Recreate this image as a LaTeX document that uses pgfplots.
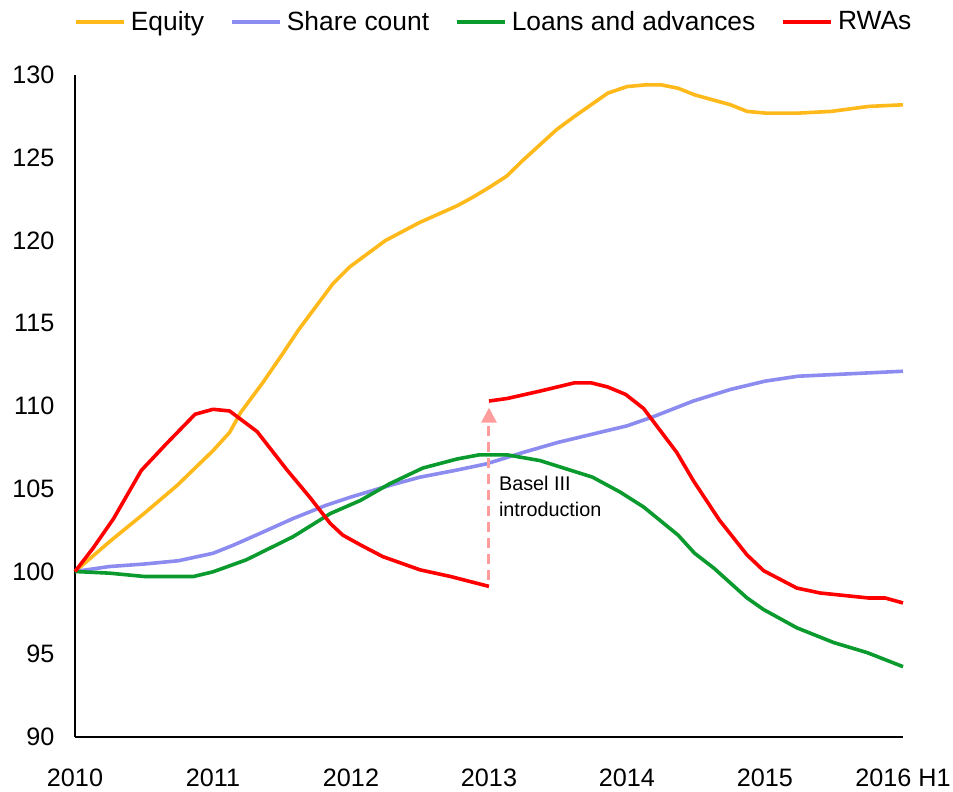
\documentclass[border=0pt]{standalone}
\usepackage{fontspec}
\setmainfont{Liberation Sans}
\usepackage{pgfplots}
\pgfplotsset{compat=1.18}
\usetikzlibrary{arrows.meta}
\definecolor{equity}{HTML}{FFB91A}
\definecolor{shares}{HTML}{8C8CF0}
\definecolor{loans}{HTML}{0A9A2E}
\definecolor{rwas}{HTML}{FF0000}
\definecolor{basel}{HTML}{FF9C9C}

\begin{document}
\begin{tikzpicture}
  \useasboundingbox (-37.5pt,-27.5pt) rectangle (439pt,368.5pt);
  \begin{axis}[
      scale only axis,
      width=414pt, height=331pt,
      xmin=0, xmax=6, ymin=90, ymax=130,
      axis lines*=left,
      axis line style={black, line width=1.2pt, -},
      major tick length=0pt,
      xtick={0,1,2,3,4,5,6},
      xticklabels={2010,2011,2012,2013,2014,2015,2016 H1},
      ytick={90,95,100,105,110,115,120,125,130},
      /pgf/number format/assume math mode=true,
      tick label style={font=\fontsize{12.6}{15}\selectfont, text=black},
      xticklabel style={yshift=-12.3pt},
      yticklabel style={xshift=-6.8pt},
      legend columns=4,
      legend style={at={(0.507,1)}, anchor=center, yshift=26.5pt, draw=none,
        font=\fontsize{13.2}{16}\selectfont,
        /tikz/every odd column/.append style={column sep=0.5pt},
        /tikz/every even column/.append style={column sep=11pt}},
      legend image code/.code={\draw[#1] (0pt,0pt) -- (24pt,0pt);},
      every axis plot/.append style={line width=1.8pt, line join=round},
      clip=false,
    ]
    \addplot[equity] coordinates {
      (0,100) (0.25,101.8) (0.5,103.5) (0.74,105.2) (1.0,107.3) (1.12,108.4)
      (1.2,109.6) (1.36,111.4) (1.50,113.1) (1.62,114.6) (1.87,117.4)
      (1.99,118.4) (2.25,120.0) (2.5,121.1) (2.77,122.1) (2.88,122.6)
      (3.0,123.2) (3.13,123.9) (3.24,124.8) (3.49,126.7) (3.62,127.5)
      (3.74,128.2) (3.86,128.9) (4.0,129.3) (4.13,129.4) (4.25,129.4)
      (4.37,129.2) (4.49,128.8) (4.75,128.2) (4.87,127.8) (5.0,127.7)
      (5.25,127.7) (5.48,127.8) (5.75,128.1) (6.0,128.2)};
    \addlegendentry{Equity}
    \addplot[shares] coordinates {
      (0,100) (0.25,100.3) (0.5,100.45) (0.75,100.65) (1.0,101.1)
      (1.15,101.6) (1.34,102.3) (1.58,103.2) (1.82,104.0) (2.0,104.5)
      (2.28,105.2) (2.5,105.7) (2.75,106.1) (2.98,106.5) (3.25,107.2)
      (3.5,107.8) (3.75,108.3) (4.0,108.8) (4.19,109.35) (4.48,110.3)
      (4.75,111.0) (5.0,111.5) (5.24,111.8) (5.5,111.9) (5.75,112.0)
      (6.0,112.1)};
    \addlegendentry{Share count}
    \addplot[loans] coordinates {
      (0,100) (0.25,99.9) (0.5,99.7) (0.86,99.7) (1.0,99.98) (1.24,100.7)
      (1.58,102.1) (1.85,103.5) (2.07,104.3) (2.28,105.3) (2.52,106.25)
      (2.77,106.8) (2.93,107.05) (3.13,107.05) (3.37,106.7) (3.75,105.7)
      (3.95,104.8) (4.12,103.9) (4.37,102.2) (4.49,101.1) (4.63,100.2)
      (4.87,98.4) (4.99,97.7) (5.23,96.6) (5.50,95.7) (5.74,95.1)
      (6.0,94.25)};
    \addlegendentry{Loans and advances}
    \addplot[rwas] coordinates {
      (0,100) (0.13,101.4) (0.28,103.2) (0.48,106.1) (0.66,107.7)
      (0.80,108.9) (0.87,109.5) (1.0,109.8) (1.12,109.7) (1.32,108.45)
      (1.53,106.2) (1.70,104.5) (1.85,102.9) (1.94,102.2) (2.07,101.6)
      (2.23,100.9) (2.5,100.1) (2.72,99.7) (3.0,99.1)};
    \addlegendentry{RWAs}
    \addplot[rwas, forget plot] coordinates {
      (3.0,110.3) (3.13,110.45) (3.37,110.9) (3.62,111.4) (3.74,111.4)
      (3.86,111.15) (3.99,110.7) (4.12,109.85) (4.36,107.2) (4.48,105.5)
      (4.67,103.1) (4.87,101.0) (4.99,100.05) (5.23,99.0) (5.40,98.7)
      (5.75,98.4) (5.87,98.4) (6.0,98.1)};
    \draw[basel, line width=1.5pt, dash pattern=on 5pt off 3pt,
      -{Triangle[length=7.5pt, width=7.5pt]}]
      (axis cs:3,99.5) -- (axis cs:3,109.9);
    \node[anchor=north west, align=left, inner sep=0pt,
      font=\fontsize{9.9}{13}\selectfont]
      at (axis cs:3.07,105.8) {Basel III\\introduction};
  \end{axis}
\end{tikzpicture}
\end{document}
